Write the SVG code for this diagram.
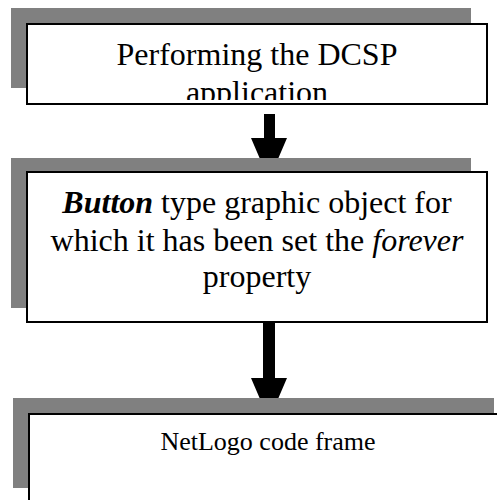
<svg xmlns="http://www.w3.org/2000/svg" width="497" height="500" viewBox="0 0 497 500">
  <style>
    .shadow { fill: #808080; }
    .box { fill: #ffffff; stroke: #000000; stroke-width: 2; }
    .t { font-family: "Liberation Serif", "Times New Roman", serif; fill: #000000; text-anchor: middle; }
    .arrow { fill: #000000; }
  </style>
  <defs>
    <clipPath id="clip1">
      <rect x="28" y="25" width="458" height="75"/>
    </clipPath>
  </defs>
  <rect width="497" height="500" fill="#ffffff"/>

  <g id="connectors">
    <path class="arrow" d="M264,114 H275 V138 H287 L269,180 L251,138 H264 Z"/>
    <path class="arrow" d="M263,323 H275 V378 H287 L269,420 L251,378 H263 Z"/>
  </g>

  <g id="node1">
    <rect class="shadow" x="11" y="8" width="460" height="80"/>
    <rect class="box" x="27" y="24" width="460" height="80"/>
    <g clip-path="url(#clip1)">
      <text class="t" x="257" y="65" font-size="32">Performing the DCSP</text>
      <text class="t" x="257" y="103" font-size="32">application</text>
    </g>
  </g>

  <g id="node2">
    <rect class="shadow" x="11" y="158" width="460" height="150"/>
    <rect class="box" x="27" y="172" width="460" height="150"/>
    <text class="t" x="257" y="213" font-size="32"><tspan font-weight="bold" font-style="italic">Button</tspan> type graphic object for</text>
    <text class="t" x="257" y="251" font-size="32">which it has been set the <tspan font-style="italic">forever</tspan></text>
    <text class="t" x="257" y="287" font-size="32">property</text>
  </g>

  <g id="node3">
    <rect class="shadow" x="13" y="398" width="481" height="90"/>
    <rect class="box" x="29" y="414" width="480" height="100"/>
    <text class="t" x="268" y="450" font-size="26">NetLogo code frame</text>
  </g>
</svg>
